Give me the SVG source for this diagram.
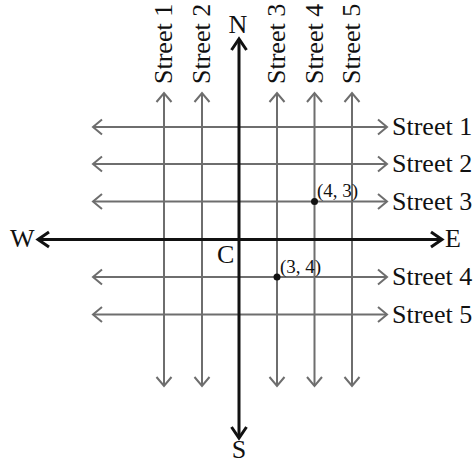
<svg xmlns="http://www.w3.org/2000/svg" width="475" height="464" viewBox="0 0 475 464">
<style>
  .st { stroke: #6e6e6e; stroke-width: 2; fill: none; }
  .ax { stroke: #111; stroke-width: 3; fill: none; }
  .lbl { font-family: "Liberation Serif", "Times New Roman", serif; font-size: 26px; fill: #111; }
  .pt { font-family: "Liberation Serif", "Times New Roman", serif; font-size: 19px; fill: #111; }
</style>
<defs>
  <marker id="ag" markerUnits="userSpaceOnUse" markerWidth="20" markerHeight="20" refX="0" refY="0" orient="auto-start-reverse" overflow="visible">
    <path d="M-9,-7.5 L0,0 L-9,7.5" fill="none" stroke="#6e6e6e" stroke-width="2"/>
  </marker>
  <marker id="ab" markerUnits="userSpaceOnUse" markerWidth="20" markerHeight="20" refX="0" refY="0" orient="auto-start-reverse" overflow="visible">
    <path d="M-11,-7.5 L0,0 L-11,7.5" fill="none" stroke="#111" stroke-width="3"/>
  </marker>
</defs>
<rect width="475" height="464" fill="#fff"/>
<g id="connectors">
  <line class="st" x1="164" y1="93" x2="164" y2="386" marker-start="url(#ag)" marker-end="url(#ag)"/>
  <line class="st" x1="202" y1="93" x2="202" y2="386" marker-start="url(#ag)" marker-end="url(#ag)"/>
  <line class="st" x1="277" y1="93" x2="277" y2="386" marker-start="url(#ag)" marker-end="url(#ag)"/>
  <line class="st" x1="314.5" y1="93" x2="314.5" y2="386" marker-start="url(#ag)" marker-end="url(#ag)"/>
  <line class="st" x1="352" y1="93" x2="352" y2="386" marker-start="url(#ag)" marker-end="url(#ag)"/>
  <line class="st" x1="93" y1="127" x2="387" y2="127" marker-start="url(#ag)" marker-end="url(#ag)"/>
  <line class="st" x1="93" y1="164" x2="387" y2="164" marker-start="url(#ag)" marker-end="url(#ag)"/>
  <line class="st" x1="93" y1="201.5" x2="387" y2="201.5" marker-start="url(#ag)" marker-end="url(#ag)"/>
  <line class="st" x1="93" y1="277" x2="387" y2="277" marker-start="url(#ag)" marker-end="url(#ag)"/>
  <line class="st" x1="93" y1="314.5" x2="387" y2="314.5" marker-start="url(#ag)" marker-end="url(#ag)"/>
  <line class="ax" x1="239" y1="39" x2="239" y2="438" marker-start="url(#ab)" marker-end="url(#ab)"/>
  <line class="ax" x1="38" y1="239.5" x2="442" y2="239.5" marker-start="url(#ab)" marker-end="url(#ab)"/>
</g>
<g id="vertical-street-labels">
  <text class="lbl" transform="translate(172,84) rotate(-90)">Street 1</text>
  <text class="lbl" transform="translate(210,84) rotate(-90)">Street 2</text>
  <text class="lbl" transform="translate(285,84) rotate(-90)">Street 3</text>
  <text class="lbl" transform="translate(322.5,84) rotate(-90)">Street 4</text>
  <text class="lbl" transform="translate(360,84) rotate(-90)">Street 5</text>
</g>
<g id="horizontal-street-labels">
  <text class="lbl" x="392" y="135">Street 1</text>
  <text class="lbl" x="392" y="172">Street 2</text>
  <text class="lbl" x="392" y="209.5">Street 3</text>
  <text class="lbl" x="392" y="285">Street 4</text>
  <text class="lbl" x="392" y="322.5">Street 5</text>
</g>
<g id="compass">
  <text class="lbl" x="238" y="33" text-anchor="middle">N</text>
  <text class="lbl" x="239" y="458" text-anchor="middle">S</text>
  <text class="lbl" x="10" y="247">W</text>
  <text class="lbl" x="445" y="247">E</text>
  <text class="lbl" x="217" y="263">C</text>
</g>
<g id="point-4-3">
  <circle cx="314.5" cy="201.5" r="3.5" fill="#111"/>
  <text class="pt" x="317" y="197">(4, 3)</text>
</g>
<g id="point-3-4">
  <circle cx="277" cy="277" r="3.5" fill="#111"/>
  <text class="pt" x="280" y="273">(3, 4)</text>
</g>
</svg>
